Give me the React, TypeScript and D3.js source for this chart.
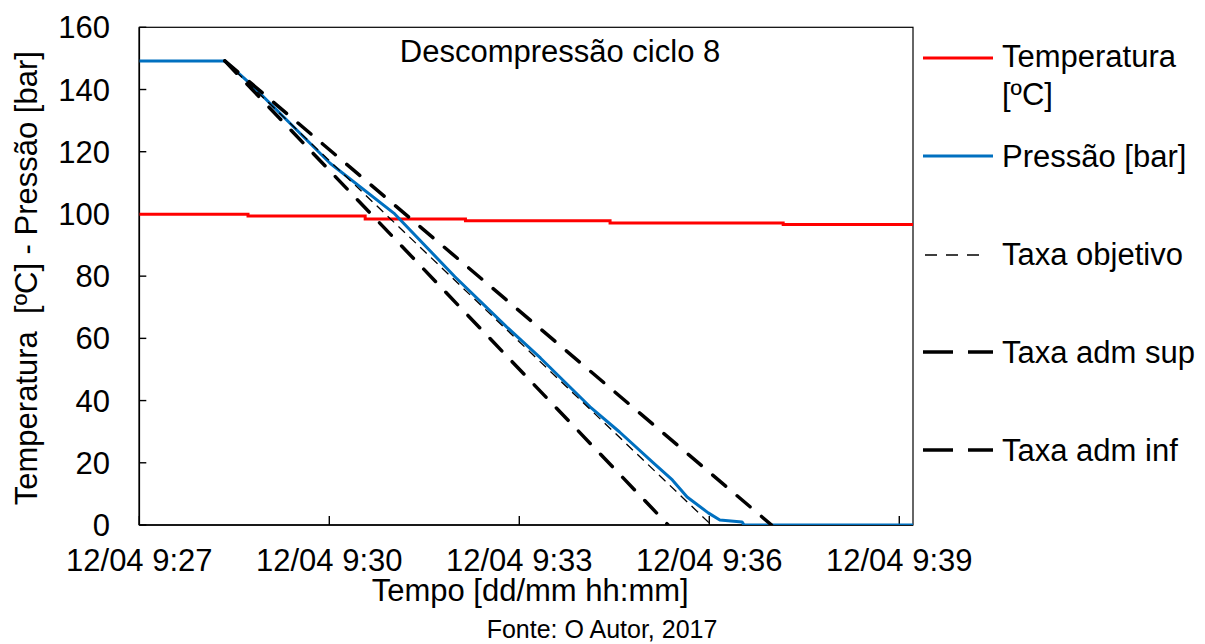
import React from "react";
import * as d3 from "d3";

const DAY = "2017-04-12 ";

// Pressure series (time, bar)
const pressureTimes = ["09:27:00", "09:28:21", "09:28:45", "09:30:01", "09:31:02", "09:31:59", "09:32:48", "09:33:20", "09:34:07", "09:34:35", "09:35:07", "09:35:25", "09:35:39", "09:35:59", "09:36:10", "09:36:31", "09:36:33", "09:39:13"];
const pressureValues = [149.2, 149.2, 141.9, 116.2, 100, 79.8, 63.7, 53.7, 38, 29.9, 20, 14.5, 9, 3.9, 1.6, 1.0, 0, 0];

// Temperature series (step changes)
const temperatureTimes = ["09:27:00", "09:28:43", "09:30:34", "09:32:09", "09:34:26", "09:37:10", "09:39:13"];
const temperatureValues = [99.9, 99.3, 98.4, 97.8, 97.1, 96.6, 96.6];

// Rate lines
const objetivoTimes = ["09:28:21", "09:36:02"];
const objetivoValues = [149.2, 0];
const supTimes = ["09:28:21", "09:36:59"];
const supValues = [149.2, 0];
const infTimes = ["09:28:21", "09:35:21"];
const infValues = [149.2, 0];

const xDomainTimes = ["09:27:00", "09:39:13"];
const yDomain = [0, 160];

const legendLabels = ["Temperatura", "Pressão [bar]", "Taxa objetivo", "Taxa adm sup", "Taxa adm inf"];
const titleText = "Descompressão ciclo 8";
const xTitle = "Tempo [dd/mm hh:mm]";
const yTitle = "Temperatura  [ºC] - Pressão [bar]";
const sourceText = "Fonte: O Autor, 2017";

const parse = d3.timeParse("%Y-%m-%d %H:%M:%S");
const toPts = (ts: string[], vs: number[]) => ts.map((t, i) => ({ t: parse(DAY + t) as Date, v: vs[i] }));

const FONT = "'Liberation Sans', Arial, sans-serif";

export default function App() {
  const W = 1205, H = 644;
  const left = 139.3, right = 913, top = 27.3, bottom = 525;
  const x = d3.scaleTime().domain(xDomainTimes.map((t) => parse(DAY + t) as Date)).range([left, right]);
  const y = d3.scaleLinear().domain(yDomain).range([bottom, top]);

  const line = d3.line<{ t: Date; v: number }>().x((d) => x(d.t)).y((d) => y(d.v));
  const stepLine = d3.line<{ t: Date; v: number }>().x((d) => x(d.t)).y((d) => y(d.v)).curve(d3.curveStepAfter);

  const xTicks = x.ticks(d3.timeMinute.every(3) as any);
  const yTicks = y.ticks(8);
  const fmt = d3.timeFormat("%d/%m %-H:%M");

  const legendX1 = 923, legendX2 = 993, legendTextX = 1002;

  return (
    <svg width={W} height={H} style={{ position: "absolute", left: 0, top: 0, background: "#fff" }} fontFamily={FONT}>
      <rect x={0} y={0} width={W} height={H} fill="#fff" />
      <defs>
        <clipPath id="plotClip">
          <rect x={left} y={top - 5} width={right - left} height={bottom - top + 5} />
        </clipPath>
      </defs>
      {/* plot border */}
      <rect x={left} y={top} width={right - left} height={bottom - top} fill="none" stroke="#000" strokeWidth={1.2} />
      {/* axes */}
      <line x1={left} x2={left} y1={top} y2={bottom} stroke="#000" strokeWidth={1.6} />
      <line x1={left} x2={right} y1={bottom} y2={bottom} stroke="#000" strokeWidth={1.6} />
      {yTicks.map((v) => (
        <g key={"y" + v}>
          <line x1={left} x2={left + 7} y1={y(v)} y2={y(v)} stroke="#000" strokeWidth={1.4} />
          <text x={110} y={y(v) + 11} textAnchor="end" fontSize={31} fill="#000">{v}</text>
        </g>
      ))}
      {xTicks.map((t) => (
        <g key={"x" + t.getTime()}>
          <line x1={x(t)} x2={x(t)} y1={bottom} y2={bottom - 9} stroke="#000" strokeWidth={1.4} />
          <text x={x(t)} y={571} textAnchor="middle" fontSize={31} fill="#000">{fmt(t)}</text>
        </g>
      ))}
      <text x={560} y={62} textAnchor="middle" fontSize={31} fill="#000">{titleText}</text>
      <text x={(left + right) / 2 + 4} y={601} textAnchor="middle" fontSize={31} fill="#000">{xTitle}</text>
      <text transform={`translate(37,${(top + bottom) / 2 + 2}) rotate(-90)`} textAnchor="middle" fontSize={31} fill="#000" style={{ whiteSpace: "pre" }}>{yTitle}</text>
      <text x={602} y={638} textAnchor="middle" fontSize={25} fill="#000">{sourceText}</text>

      <g clipPath="url(#plotClip)" fill="none">
        <path d={stepLine(toPts(temperatureTimes, temperatureValues)) || ""} stroke="#FF0000" strokeWidth={3} />
        <path d={line(toPts(pressureTimes, pressureValues)) || ""} stroke="#0070C0" strokeWidth={3} strokeLinejoin="round" />
        <path d={line(toPts(objetivoTimes, objetivoValues)) || ""} stroke="#000" strokeWidth={1.3} strokeDasharray="9 6" />
        <path d={line(toPts(supTimes, supValues)) || ""} stroke="#000" strokeWidth={3.5} strokeDasharray="17 15" strokeLinecap="round" />
        <path d={line(toPts(infTimes, infValues)) || ""} stroke="#000" strokeWidth={3.5} strokeDasharray="17 15" strokeLinecap="round" />
      </g>

      {/* legend */}
      <g fontSize={31} fill="#000">
        <line x1={legendX1} x2={legendX2} y1={58} y2={58} stroke="#FF0000" strokeWidth={3} />
        <text x={legendTextX} y={67}>{legendLabels[0]}</text>
        <text x={legendTextX} y={105}>[ºC]</text>
        <line x1={legendX1} x2={legendX2} y1={156} y2={156} stroke="#0070C0" strokeWidth={3} />
        <text x={legendTextX} y={167}>{legendLabels[1]}</text>
        <line x1={925} x2={985} y1={255} y2={255} stroke="#000" strokeWidth={1.3} strokeDasharray="12 9" />
        <text x={legendTextX} y={265}>{legendLabels[2]}</text>
        <line x1={legendX1} x2={legendX2} y1={352} y2={352} stroke="#000" strokeWidth={3.5} strokeDasharray="30 15" />
        <text x={legendTextX} y={363}>{legendLabels[3]}</text>
        <line x1={legendX1} x2={legendX2} y1={450} y2={450} stroke="#000" strokeWidth={3.5} strokeDasharray="30 15" />
        <text x={legendTextX} y={461}>{legendLabels[4]}</text>
      </g>
    </svg>
  );
}
